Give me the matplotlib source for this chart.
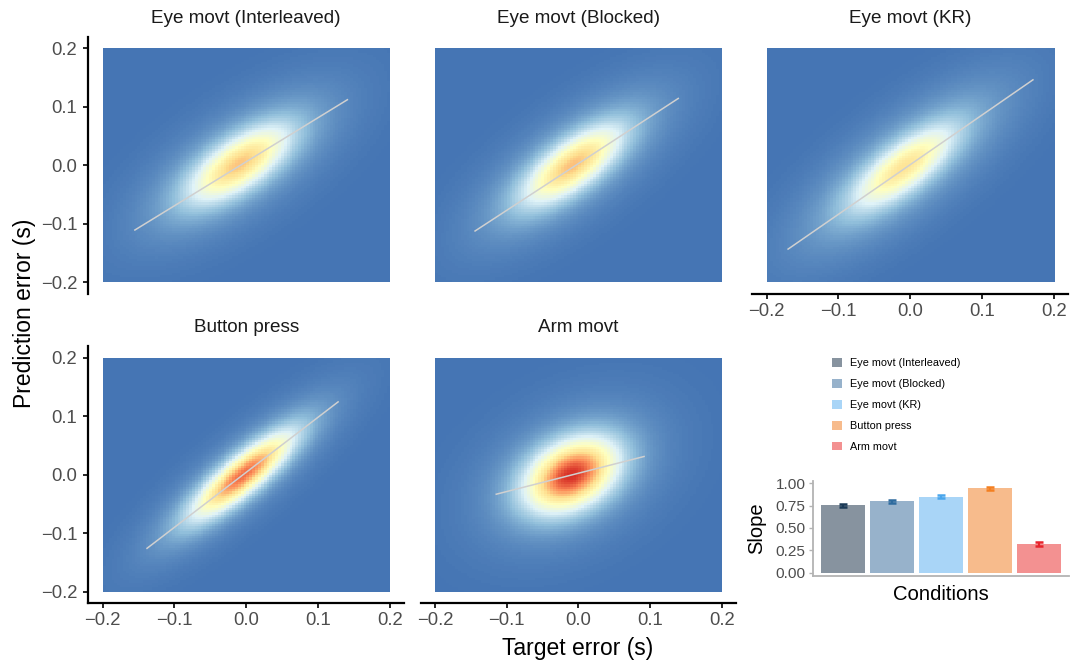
import numpy as np
import matplotlib
matplotlib.use("Agg")
import matplotlib.pyplot as plt
from matplotlib.colors import LinearSegmentedColormap
from matplotlib.patches import Patch

plt.rcParams['font.family'] = ['Liberation Sans', 'DejaVu Sans']

# ---------------- data ----------------
conditions = ["Eye movt (Interleaved)", "Eye movt (Blocked)", "Eye movt (KR)",
              "Button press", "Arm movt"]

# 2D density description per condition
dens_cx = [-0.010, -0.008, -0.010, -0.005, -0.010]
dens_cy = [0.002, 0.000, -0.004, 0.000, 0.000]
dens_sx = [0.047, 0.046, 0.048, 0.046, 0.042]
dens_sy = [0.044, 0.045, 0.048, 0.048, 0.041]
dens_rho = [0.68, 0.72, 0.76, 0.85, 0.35]
dens_peak = [0.72, 0.73, 0.64, 0.89, 1.00]
halo_weight = [0.25, 0.25, 0.32, 0.20, 0.15]
halo_scale = [2.0, 2.0, 2.1, 1.9, 2.0]

# fitted regression lines
fit_slope = [0.752, 0.800, 0.848, 0.940, 0.313]
fit_intercept = [0.006, 0.003, 0.001, 0.004, 0.0025]
fit_xmin = [-0.156, -0.145, -0.171, -0.139, -0.1156]
fit_xmax = [0.142, 0.140, 0.172, 0.129, 0.0925]

# bar chart of slopes
slope_mean = [0.752, 0.800, 0.852, 0.942, 0.318]
slope_err = [0.018, 0.018, 0.022, 0.018, 0.024]
bar_fill = ["#87939f", "#97b2cb", "#a9d5f7", "#f7bb8c", "#f39191"]
bar_errc = ["#1b3a57", "#2e6b9e", "#4aa6ec", "#f47f20", "#e8242c"]

tick_vals = [-0.2, -0.1, 0.0, 0.1, 0.2]
tick_labels = ["\u22120.2", "\u22120.1", "0.0", "0.1", "0.2"]
slope_ticks = [0.0, 0.25, 0.5, 0.75, 1.0]
slope_tick_labels = ["0.00", "0.25", "0.50", "0.75", "1.00"]

palette = ['#4575b4', '#91bfdb', '#e0f3f8', '#ffffbf', '#fee090', '#fc8d59', '#d73027']
cmap = LinearSegmentedColormap.from_list("rdylbu7", palette)

# ---------------- figure ----------------
W, H = 1079, 665
fig = plt.figure(figsize=(W / 100, H / 100), dpi=100)


def axpos(left, top, w, h):
    return [left / W, 1 - (top + h) / H, w / W, h / H]


pw, ph = 315.7, 257.4
lefts = [88.3, 420.6, 752.3, 88.3, 420.6]
tops = [36.6, 36.6, 36.6, 346.0, 346.0]
show_left = [True, False, False, True, False]
show_bottom = [False, False, True, True, True]

grid = np.linspace(-0.2, 0.2, 100)
GX, GY = np.meshgrid(grid, grid)

tick_col = "#4d4d4d"

for i in range(5):
    ax = fig.add_axes(axpos(lefts[i], tops[i], pw, ph))
    dx = GX - dens_cx[i]
    dy = GY - dens_cy[i]

    def g(sx, sy, r):
        zx = dx / sx
        zy = dy / sy
        q = (zx ** 2 - 2 * r * zx * zy + zy ** 2) / (1 - r ** 2)
        return np.exp(-0.5 * q)

    core = g(dens_sx[i], dens_sy[i], dens_rho[i])
    halo = g(dens_sx[i] * halo_scale[i], dens_sy[i] * halo_scale[i], dens_rho[i])
    Z = core + halo_weight[i] * halo
    Z = Z / Z.max() * dens_peak[i]
    ax.imshow(Z, extent=[-0.2, 0.2, -0.2, 0.2], origin='lower', cmap=cmap,
              vmin=0, vmax=1, interpolation='nearest', aspect='auto')
    xs = np.array([fit_xmin[i], fit_xmax[i]])
    ax.plot(xs, fit_intercept[i] + fit_slope[i] * xs, color="#d0d0d0", lw=1.1,
            solid_capstyle='butt')
    ax.set_xlim(-0.22, 0.22)
    ax.set_ylim(-0.22, 0.22)
    for s in ['top', 'right']:
        ax.spines[s].set_visible(False)
    ax.spines['left'].set_visible(show_left[i])
    ax.spines['bottom'].set_visible(show_bottom[i])
    for s in ['left', 'bottom']:
        ax.spines[s].set_linewidth(1.6)
        ax.spines[s].set_color("black")
    if show_left[i]:
        ax.set_yticks(tick_vals)
        ax.set_yticklabels(tick_labels)
        ax.tick_params(axis='y', length=3.4, width=1.2, pad=4.5,
                       labelsize=13.3, labelcolor=tick_col, color="black")
    else:
        ax.set_yticks([])
    if show_bottom[i]:
        ax.set_xticks(tick_vals)
        ax.set_xticklabels(tick_labels)
        ax.tick_params(axis='x', length=3.4, width=1.2, pad=3,
                       labelsize=13.3, labelcolor=tick_col, color="black")
    else:
        ax.set_xticks([])
    ax.patch.set_alpha(0)
    ax.text(0.5, 1 + 18.5 / ph, conditions[i], transform=ax.transAxes,
            ha='center', va='center', fontsize=13.6, color="#1a1a1a")

fig.text(25 / W, 1 - 313 / H, "Prediction error (s)", rotation=90,
         ha='center', va='center', fontsize=16.5, color="black")
fig.text(578 / W, 1 - 648 / H, "Target error (s)",
         ha='center', va='center', fontsize=16.5, color="black")

# ---------------- bar chart ----------------
bx = fig.add_axes(axpos(813.3, 480.6, 255.2, 95.4))
xpos = np.arange(1, 6)
bx.bar(xpos, slope_mean, width=0.9, color=bar_fill, edgecolor='none')
for k in range(5):
    bx.errorbar(xpos[k], slope_mean[k], yerr=slope_err[k], color=bar_errc[k],
                capsize=3, capthick=1.8, elinewidth=1.6, fmt='none')
bx.set_xlim(0.4, 5.6)
bx.set_ylim(-0.037, 1.03)
bx.set_xticks([])
bx.set_yticks(slope_ticks)
bx.set_yticklabels(slope_tick_labels)
for s in ['top', 'right']:
    bx.spines[s].set_visible(False)
for s in ['left', 'bottom']:
    bx.spines[s].set_color("#b3b3b3")
    bx.spines[s].set_linewidth(1.3)
bx.tick_params(axis='y', length=3, width=1, color="#b3b3b3", pad=2.5,
               labelsize=11.1, labelcolor=tick_col)
bx.text((757 - 813.3) / 255.2, 0.5, "Slope", transform=bx.transAxes,
        rotation=90, ha='center', va='center', fontsize=14.5)
bx.text(0.5, -(595 - 576) / 95.4, "Conditions", transform=bx.transAxes,
        ha='center', va='center', fontsize=14.6)

handles = [Patch(facecolor=c, edgecolor='none') for c in bar_fill]
fig.legend(handles, conditions, loc='upper left',
           bbox_to_anchor=(832 / W, 1 - 358 / H), frameon=False,
           fontsize=7.8, handlelength=0.92, handleheight=0.86,
           handletextpad=0.75, labelspacing=1.0, borderpad=0, borderaxespad=0)

fig.savefig("out.png", dpi=100)
